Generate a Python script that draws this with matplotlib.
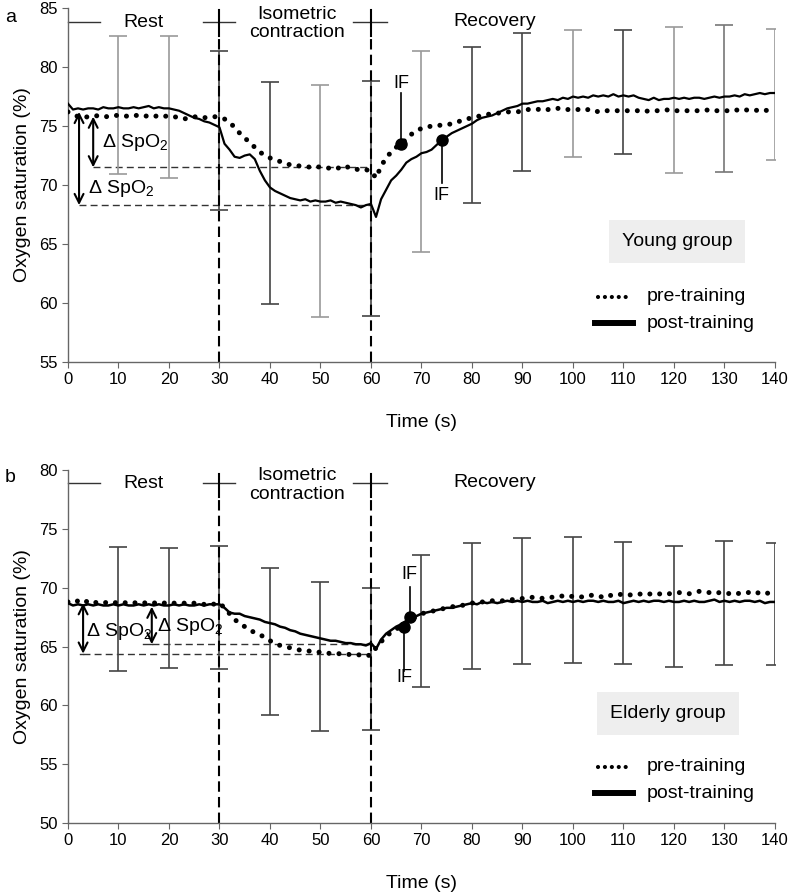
import numpy as np
import matplotlib
matplotlib.use("Agg")
import matplotlib.pyplot as plt

plt.rcParams["font.family"] = ["Liberation Sans", "DejaVu Sans"]
plt.rcParams["mathtext.fontset"] = "custom"
plt.rcParams["mathtext.rm"] = "Liberation Sans"
plt.rcParams["mathtext.default"] = "regular"

time = np.arange(0, 141)

# young group, 1 s resolution
young_pre = [
    76.2, 76.0, 75.8, 75.7, 75.8, 75.8, 75.9, 75.8, 75.8, 75.9,
    75.9, 75.9, 75.8, 75.9, 75.9, 75.8, 75.9, 75.8, 75.9, 75.8,
    75.9, 75.8, 75.7, 75.6, 75.7, 75.8, 75.7, 75.7, 75.8, 75.8,
    75.7, 75.6, 75.3, 74.9, 74.4, 74.0, 73.6, 73.2, 72.8, 72.5,
    72.3, 72.1, 72.0, 71.9, 71.7, 71.7, 71.6, 71.6, 71.5, 71.6,
    71.5, 71.5, 71.4, 71.5, 71.4, 71.6, 71.4, 71.3, 71.4, 71.3,
    71.2, 70.6, 71.6, 72.3, 72.8, 73.2, 73.5, 73.9, 74.3, 74.6,
    74.8, 74.9, 75.0, 75.0, 75.1, 75.1, 75.2, 75.3, 75.5, 75.6,
    75.7, 75.8, 75.9, 76.0, 76.0, 76.1, 76.1, 76.2, 76.2, 76.2,
    76.3, 76.4, 76.4, 76.4, 76.5, 76.4, 76.4, 76.5, 76.4, 76.4,
    76.4, 76.4, 76.3, 76.4, 76.4, 76.2, 76.3, 76.3, 76.3, 76.3,
    76.3, 76.3, 76.3, 76.3, 76.2, 76.3, 76.3, 76.3, 76.3, 76.4,
    76.3, 76.3, 76.3, 76.3, 76.3, 76.3, 76.3, 76.4, 76.3, 76.3,
    76.3, 76.3, 76.4, 76.3, 76.4, 76.3, 76.3, 76.4, 76.3, 76.4,
    76.5,
]
young_post = [
    76.9, 76.4, 76.5, 76.4, 76.5, 76.5, 76.4, 76.6, 76.5, 76.5,
    76.6, 76.5, 76.5, 76.6, 76.5, 76.6, 76.7, 76.5, 76.6, 76.5,
    76.5, 76.4, 76.3, 76.1, 75.9, 75.7, 75.6, 75.4, 75.3, 75.1,
    74.9, 73.5, 73.0, 72.4, 72.3, 72.5, 72.6, 72.2, 71.2, 70.4,
    69.8, 69.5, 69.3, 69.1, 68.9, 68.8, 68.7, 68.8, 68.6, 68.7,
    68.6, 68.6, 68.7, 68.5, 68.6, 68.5, 68.4, 68.3, 68.1, 68.3,
    68.4, 67.3, 68.8, 69.6, 70.4, 70.8, 71.3, 71.9, 72.2, 72.4,
    72.7, 72.8, 73.0, 73.4, 73.8, 74.1, 74.4, 74.6, 74.8, 75.0,
    75.2, 75.5, 75.7, 75.8, 75.9, 76.1, 76.3, 76.5, 76.6, 76.7,
    76.9, 76.9, 77.0, 77.1, 77.1, 77.2, 77.3, 77.2, 77.4, 77.3,
    77.5, 77.4, 77.5, 77.4, 77.6, 77.5, 77.6, 77.5, 77.7, 77.5,
    77.6, 77.5, 77.6, 77.4, 77.3, 77.2, 77.4, 77.2, 77.3, 77.3,
    77.4, 77.3, 77.4, 77.3, 77.4, 77.4, 77.3, 77.4, 77.5, 77.4,
    77.5, 77.5, 77.6, 77.5, 77.7, 77.6, 77.7, 77.8, 77.7, 77.8,
    77.8,
]

# elderly group, 1 s resolution
elderly_pre = [
    68.8, 68.7, 68.9, 68.7, 68.9, 68.7, 68.8, 68.7, 68.8, 68.7,
    68.8, 68.7, 68.8, 68.7, 68.8, 68.7, 68.8, 68.7, 68.8, 68.7,
    68.8, 68.7, 68.7, 68.7, 68.6, 68.7, 68.6, 68.6, 68.7, 68.6,
    68.7, 68.3, 67.8, 67.3, 67.0, 66.7, 66.4, 66.2, 66.0, 65.8,
    65.5, 65.3, 65.1, 65.0, 64.9, 64.8, 64.7, 64.7, 64.6, 64.6,
    64.5, 64.5, 64.4, 64.4, 64.4, 64.4, 64.3, 64.3, 64.3, 64.2,
    64.3, 64.9, 65.4, 65.9, 66.2, 66.5, 66.7, 67.0, 67.3, 67.6,
    67.8, 67.9, 68.0, 68.1, 68.2, 68.3, 68.4, 68.4, 68.5, 68.6,
    68.7, 68.8, 68.8, 68.8, 68.9, 68.9, 68.9, 68.9, 69.0, 69.0,
    69.1, 69.1, 69.2, 69.2, 69.1, 69.2, 69.2, 69.3, 69.3, 69.2,
    69.3, 69.3, 69.2, 69.3, 69.4, 69.3, 69.2, 69.4, 69.3, 69.4,
    69.5, 69.4, 69.4, 69.5, 69.4, 69.5, 69.4, 69.5, 69.4, 69.5,
    69.5, 69.6, 69.5, 69.5, 69.6, 69.7, 69.6, 69.6, 69.5, 69.6,
    69.6, 69.5, 69.6, 69.5, 69.6, 69.6, 69.7, 69.5, 69.6, 69.5,
    69.6,
]
elderly_post = [
    68.7, 68.5, 68.6, 68.5, 68.6, 68.5, 68.6, 68.5, 68.5, 68.6,
    68.5, 68.6, 68.5, 68.5, 68.6, 68.5, 68.6, 68.5, 68.6, 68.5,
    68.5, 68.6, 68.5, 68.6, 68.5, 68.5, 68.6, 68.5, 68.6, 68.6,
    68.6, 68.3, 67.9, 67.8, 67.8, 67.6, 67.5, 67.4, 67.3, 67.1,
    67.0, 66.9, 66.7, 66.6, 66.4, 66.3, 66.1, 66.0, 65.9, 65.8,
    65.7, 65.6, 65.5, 65.5, 65.4, 65.3, 65.3, 65.2, 65.2, 65.1,
    65.3, 64.8, 65.6, 66.1, 66.4, 66.7, 66.9, 67.2, 67.5, 67.6,
    67.8, 67.9, 68.0, 68.1, 68.2, 68.3, 68.3, 68.4, 68.5, 68.6,
    68.7, 68.6, 68.8, 68.7, 68.8, 68.7, 68.8, 68.9, 68.8, 68.9,
    68.8, 68.9, 68.8, 68.8, 68.9, 68.7, 68.8, 68.9, 68.8, 68.9,
    68.8, 68.9, 68.8, 68.9, 68.9, 68.8, 68.9, 68.8, 68.8, 68.9,
    68.7, 68.8, 68.9, 68.8, 68.9, 68.8, 68.9, 68.9, 68.8, 68.9,
    68.8, 68.8, 68.9, 68.8, 68.9, 68.8, 68.8, 68.9, 69.0, 68.8,
    68.9, 68.8, 68.9, 68.8, 68.9, 68.9, 68.8, 68.9, 68.7, 68.8,
    68.8,
]

# error bars (upper / lower ends)
eb_time = [10, 20, 30, 40, 50, 60, 70, 80, 90, 100, 110, 120, 130, 140]
young_eb_top = [82.6, 82.6, 81.4, 78.7, 78.5, 78.8, 81.4, 81.7, 82.9, 83.1, 83.1, 83.4, 83.6, 83.2]
young_eb_bot = [70.9, 70.6, 67.9, 59.9, 58.8, 58.9, 64.3, 68.5, 71.2, 72.4, 72.6, 71.0, 71.1, 72.1]
young_eb_color = ["#9a9a9a", "#9a9a9a", "#444444", "#444444", "#9a9a9a", "#444444", "#9a9a9a",
                  "#444444", "#444444", "#9a9a9a", "#444444", "#9a9a9a", "#777777", "#9a9a9a"]
elderly_eb_top = [73.5, 73.4, 73.6, 71.7, 70.5, 70.0, 72.8, 73.8, 74.2, 74.3, 73.9, 73.6, 74.0, 73.8]
elderly_eb_bot = [62.9, 63.2, 63.1, 59.2, 57.8, 57.9, 61.6, 63.1, 63.5, 63.6, 63.5, 63.3, 63.4, 63.4]

# inflection points
young_if_t = [66, 74]
young_if_v = [73.5, 73.8]
elderly_if_t = [66.6, 67.7]
elderly_if_v = [66.7, 67.5]

# delta SpO2 levels (baseline, end of contraction)
young_delta = [(75.8, 71.5), (76.2, 68.3)]
elderly_delta = [(68.7, 64.4), (68.4, 65.2)]

series_labels = ["pre-training", "post-training"]

fig = plt.figure(figsize=(7.9, 8.94), dpi=100)
ax1 = fig.add_axes([0.086, 0.595, 0.895, 0.396])
ax2 = fig.add_axes([0.086, 0.0794, 0.895, 0.3946])

dot_style = dict(color="black", lw=3.6, linestyle=(0, (0.01, 2.0)), dash_capstyle="round")


def setup(ax, ylo, yhi):
    ax.set_xlim(0, 140)
    ax.set_ylim(ylo, yhi)
    ax.set_xticks(range(0, 141, 10))
    ax.set_yticks(range(ylo, yhi + 1, 5))
    for s in ["top", "right"]:
        ax.spines[s].set_visible(False)
    for s in ["left", "bottom"]:
        ax.spines[s].set_color("#666666")
        ax.spines[s].set_linewidth(1.0)
    ax.tick_params(direction="out", length=4, color="#666666", labelsize=12)
    ax.set_xlabel("Time (s)", fontsize=14, labelpad=19)
    ax.set_ylabel("Oxygen saturation (%)", fontsize=14, labelpad=6)


def phases(ax, ytop, ybar, ylo, iso_y):
    for x0, x1 in [(0, 6.3), (26.7, 33.1), (56.4, 63.2)]:
        ax.plot([x0, x1], [ybar, ybar], color="#333333", lw=1.0, clip_on=False)
    for xv in [30, 60]:
        ax.plot([xv, xv], [ybar - 1.2, ytop], color="black", lw=1.5, clip_on=False)
        ax.plot([xv, xv], [ylo, ybar - 1.2], color="black", lw=1.5, linestyle=(0, (5, 2.5)))
    ax.text(15, ybar, "Rest", fontsize=14, ha="center", va="center")
    ax.text(45.3, iso_y, "Isometric\ncontraction", fontsize=14, ha="center", va="center",
            linespacing=1.1)
    ax.text(84.5, ybar + 0.05, "Recovery", fontsize=14, ha="center", va="center")


def errbars(ax, tops, bots, colors):
    for t, hi, lo, c in zip(eb_time, tops, bots, colors):
        ax.errorbar([t], [(hi + lo) / 2], yerr=[(hi - lo) / 2], fmt="none", ecolor=c,
                    elinewidth=1.2, capsize=6.5, capthick=1.2, zorder=2)


def delta(ax, x, hi, lo, tx, ty, x_end=60):
    ax.annotate("", xy=(x, lo), xytext=(x, hi),
                arrowprops=dict(arrowstyle="<->", lw=1.5, color="black", shrinkA=0, shrinkB=0,
                                mutation_scale=16))
    ax.plot([x, x_end], [lo, lo], color="#333333", lw=1.0, linestyle=(0, (5, 3)), zorder=1)
    ax.text(tx, ty, "Δ SpO$_2$", fontsize=14, ha="left", va="center")


def infl(ax, ts, vs, ends, texts):
    for t, v, e, ty in zip(ts, vs, ends, texts):
        ax.plot([t, t], [v, e], color="black", lw=1.2, zorder=4)
        ax.plot([t], [v], "o", color="black", ms=8, zorder=5)
        ax.text(t, ty, "IF", fontsize=13, ha="center", va="center")


def legend(ax, y_pre, y_post):
    tr = ax.transAxes
    ax.plot([0.749, 0.797], [y_pre, y_pre], transform=tr, clip_on=False,
            color="black", lw=3.0, linestyle=(0, (0.01, 1.65)), dash_capstyle="round")
    ax.plot([0.745, 0.799], [y_post, y_post], transform=tr, clip_on=False, color="black", lw=4.3)
    ax.text(0.819, y_pre, series_labels[0], transform=tr, fontsize=14, va="center")
    ax.text(0.819, y_post, series_labels[1], transform=tr, fontsize=14, va="center")


def group_box(ax, x, y, label):
    ax.text(x, y, label, fontsize=14, ha="center", va="center",
            bbox=dict(boxstyle="square,pad=0.68", fc="#eeeeee", ec="none"))


# ---- a: young group
setup(ax1, 55, 85)
errbars(ax1, young_eb_top, young_eb_bot, young_eb_color)
phases(ax1, 84.8, 83.8, 55, 83.7)
ax1.plot(time, young_pre, **dot_style, zorder=3)
ax1.plot(time, young_post, color="black", lw=1.6, zorder=3)
delta(ax1, 5.0, young_delta[0][0], young_delta[0][1], 6.8, 73.6)
delta(ax1, 2.2, young_delta[1][0], young_delta[1][1], 3.9, 69.7)
infl(ax1, young_if_t, young_if_v, [77.8, 70.2], [78.6, 69.1])
group_box(ax1, 120.6, 65.2, "Young group")
legend(ax1, 0.184, 0.110)
fig.text(0.006, 0.99, "a", fontsize=14, va="top")

# ---- b: elderly group
setup(ax2, 50, 80)
errbars(ax2, elderly_eb_top, elderly_eb_bot, ["#444444"] * len(eb_time))
phases(ax2, 79.7, 78.9, 50, 78.75)
ax2.plot(time, elderly_pre, **dot_style, zorder=3)
ax2.plot(time, elderly_post, color="black", lw=1.8, zorder=3)
delta(ax2, 3.0, elderly_delta[0][0], elderly_delta[0][1], 3.6, 66.3)
delta(ax2, 16.6, elderly_delta[1][0], elderly_delta[1][1], 17.6, 66.7)
ax2.plot([2.4, 3.0], [elderly_delta[0][1]] * 2, color="#333333", lw=1.0)
ax2.plot([14.9, 16.6], [elderly_delta[1][1]] * 2, color="#333333", lw=1.0)
infl(ax2, elderly_if_t, elderly_if_v, [62.9, 70.1], [62.4, 71.1])
group_box(ax2, 118.8, 59.3, "Elderly group")
legend(ax2, 0.159, 0.085)
fig.text(0.006, 0.475, "b", fontsize=14, va="top")

fig.savefig("out.png", dpi=100)
